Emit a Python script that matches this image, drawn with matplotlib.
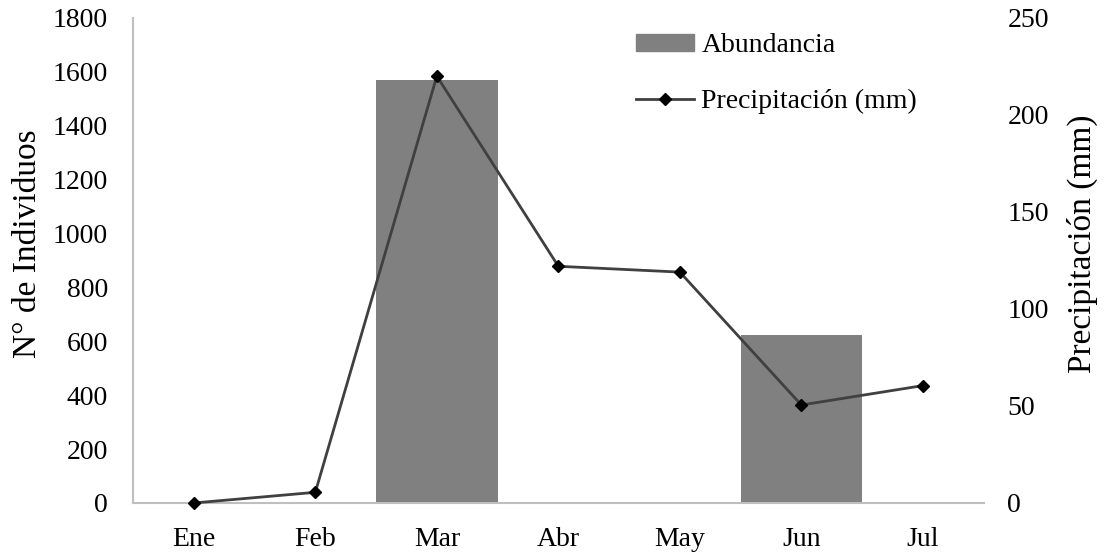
import numpy as np
import matplotlib.pyplot as plt
from matplotlib.lines import Line2D
from matplotlib.patches import Patch

plt.rcParams['font.family'] = ['Liberation Serif', 'DejaVu Serif']

meses = ["Ene", "Feb", "Mar", "Abr", "May", "Jun", "Jul"]
abundancia = [0, 0, 1570, 0, 0, 625, 0]
precipitacion = [0, 5.5, 220, 122, 119, 50.5, 60.5]

fig = plt.figure(figsize=(11.04, 5.52), dpi=100)
ax = fig.add_axes([0.1205, 0.0888, 0.7705, 0.8787])
x = np.arange(len(meses))

ax.bar(x, abundancia, width=1.0, color="#808080", zorder=1)
ax.set_xlim(-0.5, 6.5)
ax.set_ylim(0, 1800)
ax.set_yticks(range(0, 1801, 200))
ax.set_xticks(x)
ax.set_xticklabels(meses)
ax.tick_params(length=0, labelsize=20)
ax.tick_params(axis='x', pad=17)
ax.tick_params(axis='y', pad=18)
ax.set_ylabel("N° de Individuos", fontsize=24)
ax.yaxis.set_label_coords(-0.106, 0.534)
for s in ["top", "right"]:
    ax.spines[s].set_visible(False)
for s in ["left", "bottom"]:
    ax.spines[s].set_color("#bfbfbf")
    ax.spines[s].set_linewidth(1.5)

ax2 = ax.twinx()
ax2.plot(x, precipitacion, color="#404040", lw=2, marker="D", ms=6,
         mfc="black", mec="black", zorder=3, clip_on=False)
ax2.set_ylim(0, 250)
ax2.set_yticks(range(0, 251, 50))
ax2.tick_params(length=0, labelsize=20, pad=17)
ax2.set_ylabel("Precipitación (mm)", fontsize=24)
ax2.yaxis.set_label_coords(1.0975, 0.534)
for s in ["top", "right", "left", "bottom"]:
    ax2.spines[s].set_visible(False)

handles = [Patch(color="#808080"),
           Line2D([], [], color="#404040", lw=2, marker="D", ms=6, mfc="black", mec="black")]
ax2.legend(handles, ["Abundancia", "Precipitación (mm)"], loc="upper left",
           bbox_to_anchor=(0.562, 1.02), frameon=False, fontsize=20,
           handlelength=2.1, handleheight=0.55, handletextpad=0.25, labelspacing=1.1)

fig.savefig("out.png", dpi=100)
